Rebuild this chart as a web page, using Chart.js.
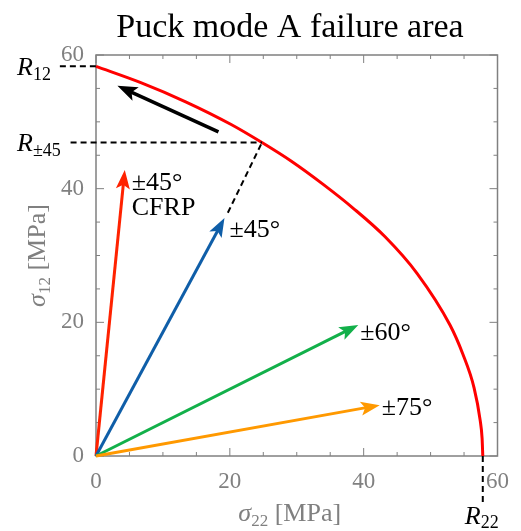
<!DOCTYPE html>
<html>
<head>
<meta charset="utf-8">
<script src="https://cdn.jsdelivr.net/npm/chart.js@4.4.0/dist/chart.umd.min.js"></script>
<style>
  html, body { margin: 0; padding: 0; background: #fff; }
  #wrap { width: 521px; height: 531px; }
</style>
</head>
<body>
<div id="wrap"><canvas id="puckChart"></canvas></div>
<script>
// Puck mode A envelope (sigma22, sigma12 in MPa)
const curveX = [0, 6.6, 13.4, 20.2, 24.8, 29.2, 34.0, 38.4, 43.2, 48.0, 52.9, 54.8, 56.5, 57.4, 57.7, 57.8];
const curveY = [58.3, 55.9, 53.0, 49.6, 46.9, 44.1, 40.6, 37.1, 32.8, 27.3, 19.6, 15.3, 10.2, 5.4, 2.6, 0];

// strengths marked with dashed guides
const R12 = 58.3;
const R22 = 57.8;
const R45x = 24.8;
const R45 = 46.9;

// load path arrows from the origin
const arrowNames = ['±45°', '±45°', '±60°', '±75°'];
const arrowTipX = [4.3, 19.2, 39.2, 42.4];
const arrowTipY = [42.8, 35.6, 19.6, 7.6];
const arrowColors = ['#ff2200', '#0f5ea8', '#12b04a', '#ff9900'];

// black arrow along the envelope
const pathX = [18.3, 3.2];
const pathY = [48.5, 55.4];

const xTicks = [0, 20, 40, 60];
const yTicks = [0, 20, 40, 60];

const GRAY = '#808080';
const SERIF = '"Liberation Serif", "DejaVu Serif", serif';

function pts(xs, ys) {
    return xs.map((v, i) => ({ x: v, y: ys[i] }));
}

function dashed(data) {
    return {
        data: data,
        borderColor: '#000',
        borderWidth: 2,
        borderDash: [6, 4],
        pointRadius: 0,
        showLine: true,
        clip: false
    };
}

// draw a run of text pieces (for subscripts)
function drawParts(ctx, parts, x, y) {
    let cx = x;
    parts.forEach(p => {
        ctx.font = p.font;
        ctx.fillText(p.t, cx, y + (p.dy || 0));
        cx += ctx.measureText(p.t).width;
    });
    return cx - x;
}

function partsWidth(ctx, parts) {
    let w = 0;
    parts.forEach(p => { ctx.font = p.font; w += ctx.measureText(p.t).width; });
    return w;
}

function drawArrow(ctx, x0, y0, x1, y1, color, lw, headLen, headW) {
    const ang = Math.atan2(y1 - y0, x1 - x0);
    const ux = Math.cos(ang), uy = Math.sin(ang);
    const nx = -uy, ny = ux;
    const bx = x1 - ux * headLen, by = y1 - uy * headLen;
    const notchX = x1 - ux * headLen * 0.78, notchY = y1 - uy * headLen * 0.78;
    ctx.strokeStyle = color;
    ctx.fillStyle = color;
    ctx.lineWidth = lw;
    ctx.beginPath();
    ctx.moveTo(x0, y0);
    ctx.lineTo(notchX + ux, notchY + uy);
    ctx.stroke();
    ctx.beginPath();
    ctx.moveTo(x1, y1);
    ctx.lineTo(bx + nx * headW / 2, by + ny * headW / 2);
    ctx.lineTo(notchX, notchY);
    ctx.lineTo(bx - nx * headW / 2, by - ny * headW / 2);
    ctx.closePath();
    ctx.fill();
}

const frame = {
    id: 'frame',
    beforeDatasetsDraw(chart) {
        const { ctx, chartArea: a, scales: { x, y } } = chart;
        ctx.save();
        ctx.strokeStyle = GRAY;
        ctx.lineWidth = 1.5;
        ctx.strokeRect(a.left, a.top, a.right - a.left, a.bottom - a.top);
        ctx.lineWidth = 1;
        ctx.beginPath();
        for (let v = 0; v <= 60; v += 5) {
            const len = v % 20 === 0 ? 8 : 4;
            const px = x.getPixelForValue(v);
            const py = y.getPixelForValue(v);
            ctx.moveTo(px, a.bottom); ctx.lineTo(px, a.bottom - len);
            ctx.moveTo(px, a.top); ctx.lineTo(px, a.top + len);
            ctx.moveTo(a.left, py); ctx.lineTo(a.left + len, py);
            ctx.moveTo(a.right, py); ctx.lineTo(a.right - len, py);
        }
        ctx.stroke();
        ctx.restore();
    },
    afterDatasetsDraw(chart) {
        const { ctx, chartArea: a, scales: { x, y } } = chart;
        ctx.save();
        const ox = x.getPixelForValue(0), oy = y.getPixelForValue(0);

        // arrows from origin
        arrowTipX.forEach((tx, i) => {
            drawArrow(ctx, ox, oy, x.getPixelForValue(tx), y.getPixelForValue(arrowTipY[i]),
                arrowColors[i], 3, 19, 14);
        });
        drawArrow(ctx, x.getPixelForValue(pathX[0]), y.getPixelForValue(pathY[0]),
            x.getPixelForValue(pathX[1]), y.getPixelForValue(pathY[1]), '#000', 3.5, 20, 15);

        // arrow labels
        ctx.fillStyle = '#000';
        ctx.textBaseline = 'alphabetic';
        ctx.textAlign = 'left';
        const lf = '26px ' + SERIF;
        const offs = [[7, 20], [5, 19], [2, 15], [2, 10]];
        arrowTipX.forEach((tx, i) => {
            const px = x.getPixelForValue(tx) + offs[i][0];
            const py = y.getPixelForValue(arrowTipY[i]) + offs[i][1];
            ctx.font = lf;
            ctx.fillText(arrowNames[i], px, py);
            if (i === 0) ctx.fillText('CFRP', px, py + 25);
        });

        // strength labels
        const rf = 'italic 26px ' + SERIF;
        const sf = '18px ' + SERIF;
        drawParts(ctx, [{ t: 'R', font: rf }, { t: '12', font: sf, dy: 5 }], 17, y.getPixelForValue(R12) + 9);
        drawParts(ctx, [{ t: 'R', font: rf }, { t: '±45', font: sf, dy: 5 }], 17, y.getPixelForValue(R45) + 8);
        drawParts(ctx, [{ t: 'R', font: rf }, { t: '22', font: sf, dy: 4 }], x.getPixelForValue(R22) - 18, 524);

        // title
        ctx.font = '34px ' + SERIF;
        ctx.textAlign = 'center';
        ctx.fillText('Puck mode A failure area', 290, 37);

        // axis titles
        ctx.fillStyle = GRAY;
        ctx.textAlign = 'left';
        const gf = 'italic 26px ' + SERIF, gs = '17px ' + SERIF, gb = '26px ' + SERIF;
        const xParts = [{ t: 'σ', font: gf }, { t: '22', font: gs, dy: 5 }, { t: ' [MPa]', font: gb }];
        const xw = partsWidth(ctx, xParts);
        drawParts(ctx, xParts, (a.left + a.right) / 2 - 7 - xw / 2, 521);
        const yParts = [{ t: 'σ', font: gf }, { t: '12', font: gs, dy: 5 }, { t: ' [MPa]', font: gb }];
        const yw = partsWidth(ctx, yParts);
        ctx.translate(45, (a.top + a.bottom) / 2);
        ctx.rotate(-Math.PI / 2);
        drawParts(ctx, yParts, -yw / 2, 0);
        ctx.restore();
    }
};

new Chart(document.getElementById('puckChart'), {
    type: 'scatter',
    data: {
        datasets: [
            dashed([{ x: -5.4, y: R12 }, { x: 0, y: R12 }]),
            dashed([{ x: -3.8, y: R45 }, { x: R45x, y: R45 }]),
            dashed([{ x: 19.7, y: 36.4 }, { x: R45x, y: R45 }]),
            dashed([{ x: R22, y: 0 }, { x: R22, y: -7.3 }]),
            {
                data: pts(curveX, curveY),
                borderColor: '#ff0000',
                borderWidth: 3,
                pointRadius: 0,
                showLine: true,
                cubicInterpolationMode: 'monotone',
                clip: false
            }
        ]
    },
    options: {
        responsive: true,
        maintainAspectRatio: false,
        animation: false,
        layout: { padding: { top: 55, right: 12, left: 0, bottom: 0 } },
        plugins: {
            legend: { display: false },
            tooltip: { enabled: false }
        },
        scales: {
            x: {
                type: 'linear',
                min: 0,
                max: 60,
                afterBuildTicks: s => { s.ticks = xTicks.map(v => ({ value: v })); },
                afterFit: s => { s.height = 75; },
                grid: { display: true, drawOnChartArea: false, drawTicks: false },
                border: { display: false },
                ticks: { color: GRAY, padding: 12, font: { family: SERIF, size: 23 } }
            },
            y: {
                type: 'linear',
                min: 0,
                max: 60,
                afterBuildTicks: s => { s.ticks = yTicks.map(v => ({ value: v })); },
                afterFit: s => { s.width = 96; },
                grid: { display: true, drawOnChartArea: false, drawTicks: false },
                border: { display: false },
                ticks: { color: GRAY, padding: 12, font: { family: SERIF, size: 23 } }
            }
        }
    },
    plugins: [frame]
});
</script>
</body>
</html>
